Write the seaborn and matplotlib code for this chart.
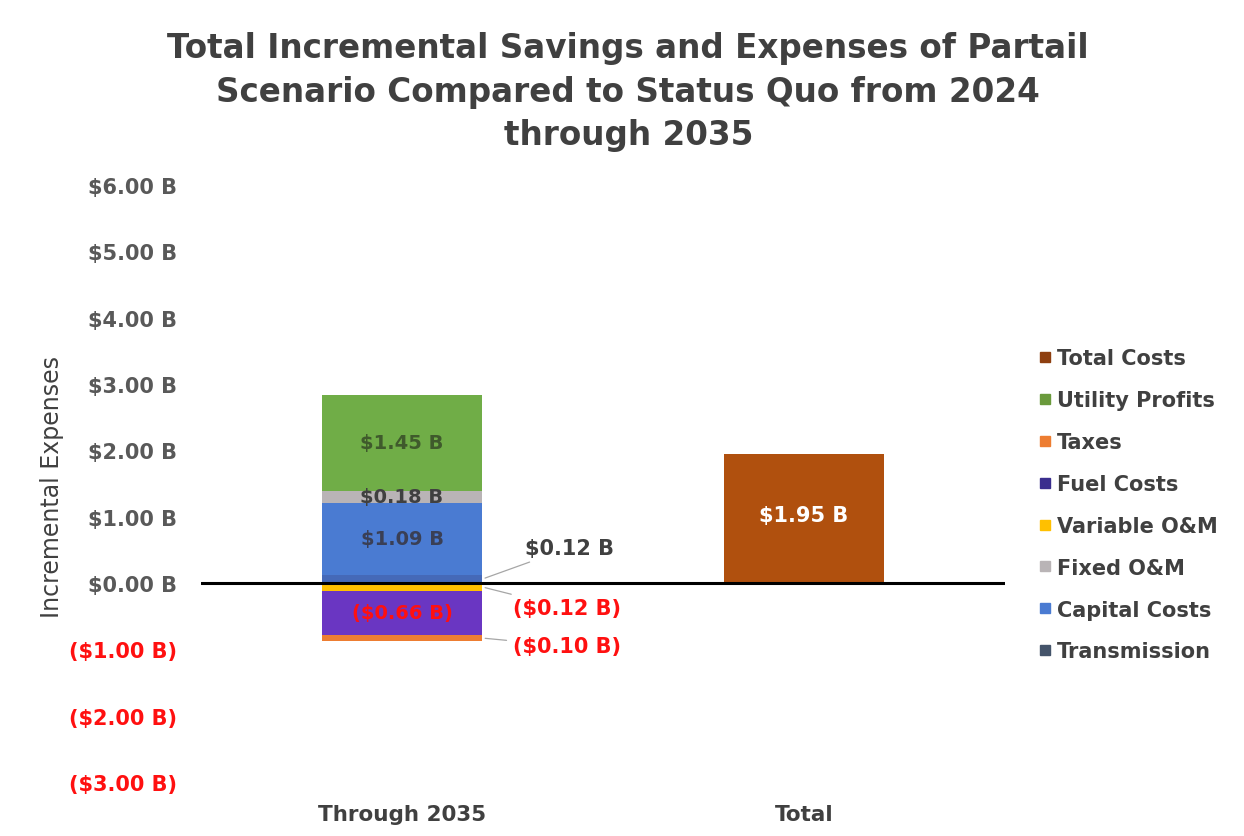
import numpy as np
import pandas as pd
import matplotlib
matplotlib.use("Agg")
import matplotlib.pyplot as plt
from matplotlib.lines import Line2D
import seaborn as sns

# ---------------------------------------------------------------------------
# Values (billions of dollars)
# ---------------------------------------------------------------------------
categories = ["Through 2035", "Total"]

pos_components = ["Transmission", "Capital Costs", "Fixed O&M", "Utility Profits"]
pos_values = [0.12, 1.09, 0.18, 1.45]

neg_components = ["Variable O&M", "Fuel Costs", "Taxes"]
neg_values = [-0.12, -0.66, -0.10]

total_value = 1.95

legend_order = ["Total Costs", "Utility Profits", "Taxes", "Fuel Costs",
                "Variable O&M", "Fixed O&M", "Capital Costs", "Transmission"]

yticks = [-3, -2, -1, 0, 1, 2, 3, 4, 5, 6]

colors = {
    "Total Costs": "#B0500E",
    "Utility Profits": "#70AD47",
    "Taxes": "#ED7D31",
    "Fuel Costs": "#6A36C2",
    "Variable O&M": "#FFC000",
    "Fixed O&M": "#B9B4B6",
    "Capital Costs": "#4A7BD2",
    "Transmission": "#4569B8",
}
legend_colors = dict(colors, **{"Fuel Costs": "#3A2E8E", "Transmission": "#44546A",
                                "Total Costs": "#8E3F10", "Utility Profits": "#6A9A3C"})


def fmt(v):
    return f"(${abs(v):.2f} B)" if v < 0 else f"${v:.2f} B"


sns.set_style("white")
plt.rcParams["font.family"] = ["DejaVu Sans"]

fig = plt.figure(figsize=(12.44, 8.37), dpi=100)
ax = fig.add_axes([0.1616, 0.0645, 0.6463, 0.7133])

# stacked positive segments
base = 0.0
pos_spans = {}
for name, v in zip(pos_components, pos_values):
    sns.barplot(x=[categories[0]], y=[v], order=categories, bottom=base,
                color=colors[name], width=0.4, saturation=1, linewidth=0, ax=ax)
    pos_spans[name] = (base, base + v)
    base += v

# stacked negative segments
base = 0.0
neg_spans = {}
for name, v in zip(neg_components, neg_values):
    sns.barplot(x=[categories[0]], y=[v], order=categories, bottom=base,
                color=colors[name], width=0.4, saturation=1, linewidth=0, ax=ax)
    neg_spans[name] = (base + v, base)
    base += v

# total bar
sns.barplot(x=[categories[1]], y=[total_value], order=categories,
            color=colors["Total Costs"], width=0.4, saturation=1, linewidth=0, ax=ax)

ax.axhline(0, color="black", lw=2.2, zorder=5)

# in-bar labels
lab_kw = dict(ha="center", va="center", fontsize=14, fontweight="bold", zorder=6)
for name, col in [("Utility Profits", "#3F5A2C"), ("Fixed O&M", "#404040"),
                  ("Capital Costs", "#3A3F55")]:
    lo, hi = pos_spans[name]
    ax.text(0, (lo + hi) / 2, fmt(hi - lo), color=col, **lab_kw)
lo, hi = neg_spans["Fuel Costs"]
ax.text(0, (lo + hi) / 2, fmt(lo - hi), color="#FF1010", **lab_kw)
ax.text(1, total_value * 0.5 + 0.05, fmt(total_value), color="white",
        **dict(lab_kw, fontsize=15))

# callout labels with leader lines
call_kw = dict(fontsize=15, fontweight="bold", ha="left", va="center",
               arrowprops=dict(arrowstyle="-", color="#A6A6A6", lw=0.9))
lo, hi = pos_spans["Transmission"]
ax.annotate(fmt(hi - lo), xy=(0.2, (lo + hi) / 2), xytext=(0.305, 0.53),
            color="#404040", **call_kw)
lo, hi = neg_spans["Variable O&M"]
ax.annotate(fmt(lo - hi), xy=(0.2, (lo + hi) / 2), xytext=(0.275, -0.38),
            color="#FF1010", **call_kw)
lo, hi = neg_spans["Taxes"]
ax.annotate(fmt(lo - hi), xy=(0.2, (lo + hi) / 2), xytext=(0.275, -0.95),
            color="#FF1010", **call_kw)

# axes styling
ax.set_xlim(-0.5, 1.5)
ax.set_ylim(-3, 6)
ax.set_yticks(yticks)
ax.set_yticklabels([fmt(t) for t in yticks])
for lbl, t in zip(ax.get_yticklabels(), yticks):
    lbl.set_color("#FF1010" if t < 0 else "#595959")
    lbl.set_fontweight("bold")
    lbl.set_fontsize(15)
ax.tick_params(axis="y", length=4, color="#D0D0D0", pad=13)
ax.tick_params(axis="x", length=0, pad=16, labelsize=15.5, labelcolor="#404040")
for lbl in ax.get_xticklabels():
    lbl.set_fontweight("bold")
ax.set_xlabel("")
ax.set_ylabel("Incremental Expenses", fontsize=17, color="#404040")
ax.yaxis.set_label_coords(-0.170, 0.496)
sns.despine(ax=ax, left=True, bottom=True)

fig.text(0.505, 0.890,
         "Total Incremental Savings and Expenses of Partail\n"
         "Scenario Compared to Status Quo from 2024\nthrough 2035",
         ha="center", va="center", fontsize=23.5, fontweight="bold",
         color="#404040", linespacing=1.42)

handles = [Line2D([], [], marker="s", ls="", markersize=7,
                  color=legend_colors[n]) for n in legend_order]
fig.legend(handles, legend_order, loc="upper left",
           bbox_to_anchor=(0.818, 0.605), frameon=False,
           labelcolor="#404040", handletextpad=0.2, labelspacing=1.05,
           handlelength=0.8, prop={"weight": "bold", "size": 15})

fig.savefig("out.png", dpi=100, facecolor="white")
